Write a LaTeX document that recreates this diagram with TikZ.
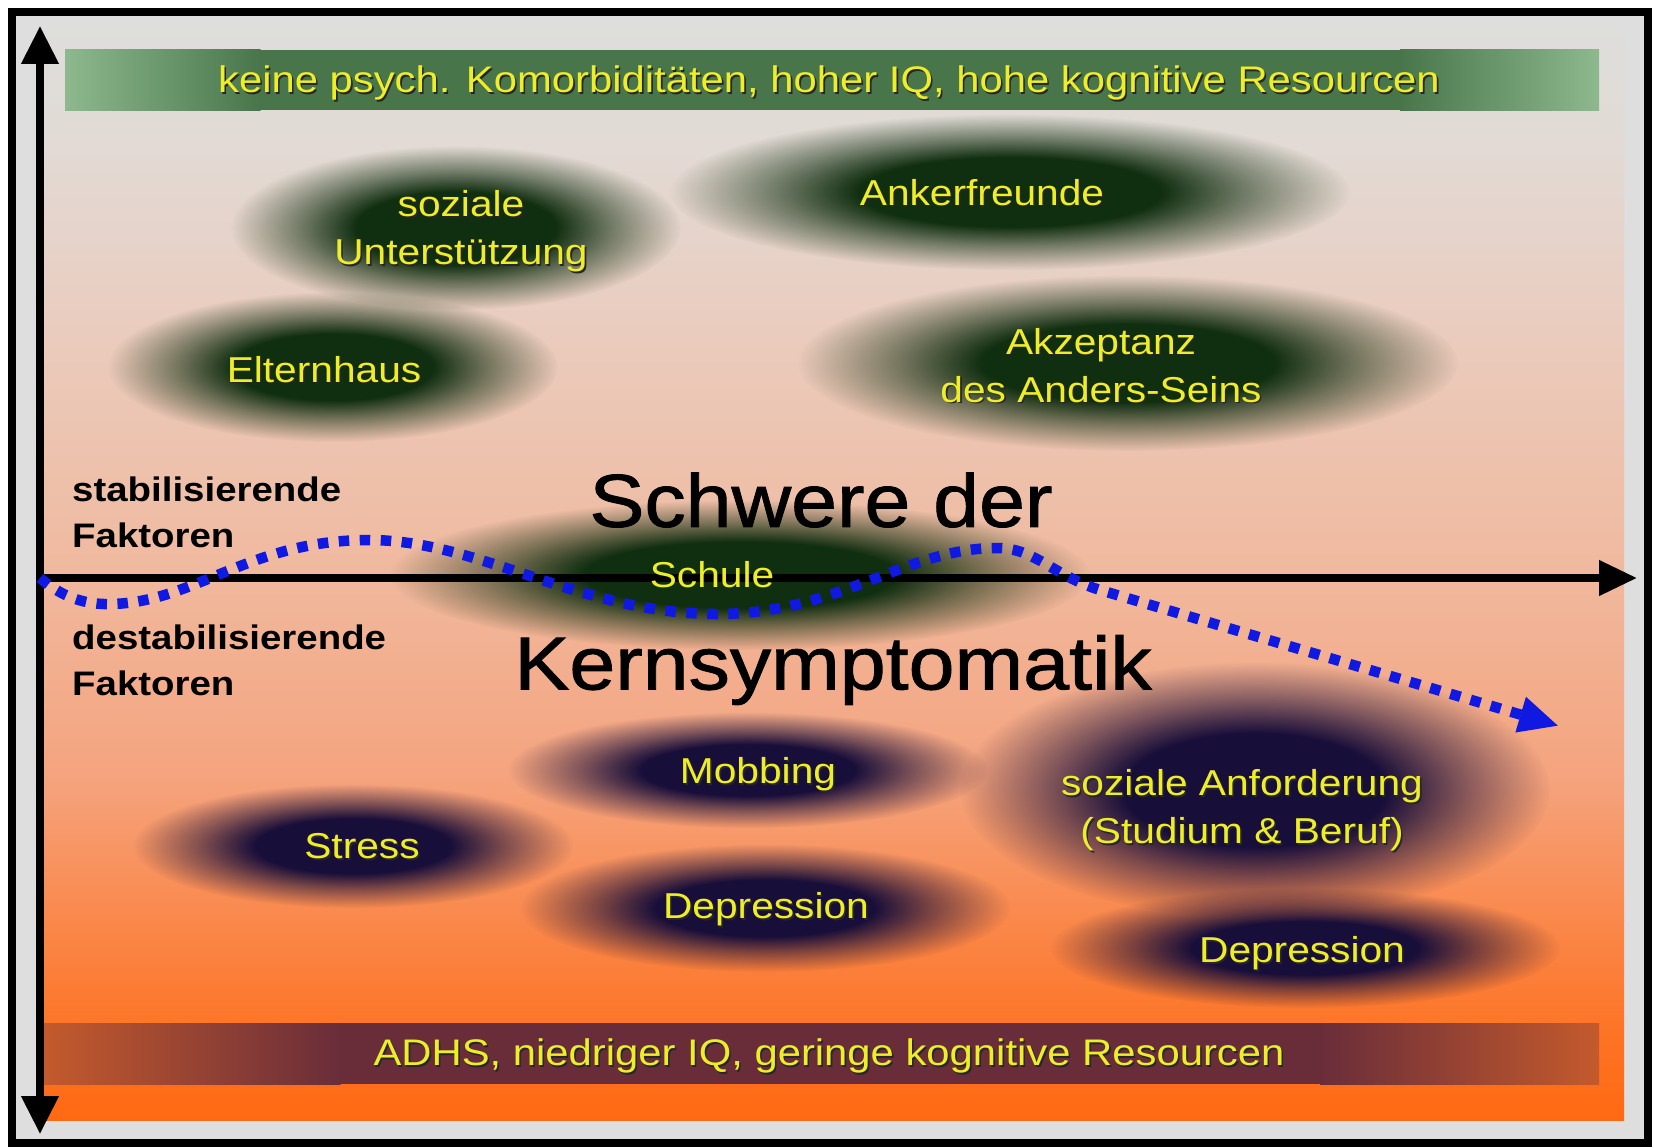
\documentclass[tikz,border=0pt]{standalone}
\usepackage{fontspec}
\setmainfont{Liberation Sans}[FakeStretch=1.13]
\newfontfamily\bigfont{Liberation Sans}[FakeStretch=1.1,FakeBold=1.2]
\usetikzlibrary{arrows.meta,fadings}
\definecolor{bggray}{RGB}{222,222,222}
\definecolor{g0}{RGB}{222,222,220}
\definecolor{g1}{RGB}{226,218,212}
\definecolor{g2}{RGB}{234,204,190}
\definecolor{g3}{RGB}{240,186,160}
\definecolor{g4}{RGB}{245,163,125}
\definecolor{g5}{RGB}{250,136,75}
\definecolor{g6}{RGB}{253,116,38}
\definecolor{g7}{RGB}{255,105,18}
\definecolor{blobgreen}{RGB}{16,46,16}
\definecolor{blobnavy}{RGB}{24,14,58}
\definecolor{labyellow}{RGB}{238,238,40}
\definecolor{dotblue}{RGB}{15,25,225}
\definecolor{topbarlight}{RGB}{142,184,142}
\definecolor{topbardark}{RGB}{72,118,74}
\definecolor{botbarlight}{RGB}{196,90,44}
\definecolor{botbardark}{RGB}{105,45,58}

\pgfdeclareradialshading{blobsh}{\pgfpointorigin}{color(0bp)=(white); color(11bp)=(white); color(17bp)=(white!55!black); color(25bp)=(black); color(50bp)=(black)}
\pgfdeclarefading{blob}{\pgfuseshading{blobsh}}

\newcommand{\shadowed}[1]{\makebox[0pt][l]{\hspace{1.6pt}\raisebox{-1.6pt}{\color{black!85}#1}}#1}

\tikzset{
  lab/.style={text=labyellow, font=\fontsize{36}{48}\selectfont, align=center, inner sep=0pt},
  barlab/.style={text=labyellow, font=\fontsize{37}{48}\selectfont, inner sep=0pt},
  sidelab/.style={text=black, font=\bfseries\fontsize{34}{46}\selectfont, align=left, inner sep=0pt, anchor=west},
  bigtext/.style={text=black, font=\bigfont\fontsize{75}{80}\selectfont, inner sep=0pt},
  axisline/.style={line width=7.5pt},
  greenblob/.style={fill=blobgreen, path fading=blob},
  navyblob/.style={fill=blobnavy, path fading=blob},
  dots/.style={draw=dotblue, line width=10.5pt, dash pattern=on 10.5pt off 10.5pt, -{Triangle[length=40pt,width=34pt,fill=dotblue]}},
}

\begin{document}
\begin{tikzpicture}[x=1pt,y=-1pt]
\useasboundingbox (0,0) rectangle (1654,1148);
\fill[white] (0,0) rectangle (1654,1148);
% frame
\fill[bggray] (12,12) rectangle (1648,1143);
% background panel
\shade[top color=g0, bottom color=g1] (44,23) rectangle (1624,150.5);
\shade[top color=g1, bottom color=g2] (44,150) rectangle (1624,330.5);
\shade[top color=g2, bottom color=g3] (44,330) rectangle (1624,560.5);
\shade[top color=g3, bottom color=g4] (44,560) rectangle (1624,780.5);
\shade[top color=g4, bottom color=g5] (44,780) rectangle (1624,920.5);
\shade[top color=g5, bottom color=g6] (44,920) rectangle (1624,1030.5);
\shade[top color=g6, bottom color=g7] (44,1030) rectangle (1624,1120);
% top bar
\shade[left color=topbarlight, right color=topbardark] (65,50) rectangle (260.5,110);
\fill[topbardark] (260,50) rectangle (1400.5,110);
\shade[left color=topbardark, right color=topbarlight] (1400,50) rectangle (1599,110);
% bottom bar
\shade[left color=botbarlight, right color=botbardark] (44,1023) rectangle (340.5,1084);
\fill[botbardark] (340,1023) rectangle (1320.5,1084);
\shade[left color=botbardark, right color=botbarlight] (1320,1023) rectangle (1599,1084);
% blobs
\fill[greenblob] (456,228) ellipse [x radius=225, y radius=82];
\fill[greenblob] (1010,192) ellipse [x radius=340, y radius=78];
\fill[greenblob] (333,367) ellipse [x radius=225, y radius=75];
\fill[greenblob] (1128,363) ellipse [x radius=330, y radius=88];
\fill[greenblob] (740,575) ellipse [x radius=350, y radius=75];
\fill[navyblob] (748,770) ellipse [x radius=240, y radius=58];
\fill[navyblob] (353,846) ellipse [x radius=220, y radius=62];
\fill[navyblob] (765,908) ellipse [x radius=245, y radius=64];
\fill[navyblob] (1255,790) ellipse [x radius=295, y radius=128];
\fill[navyblob] (1305,948) ellipse [x radius=255, y radius=60];
% frame line
\draw[line width=8pt] (12,12) rectangle (1648,1143);
% axes
\coordinate (vtop) at (40,26);
\coordinate (vbot) at (40,1134);
\coordinate (o) at (40,578);
\coordinate (hend) at (1637,578);
\coordinate (dend) at (1559,726);
\draw[axisline, {Triangle[length=38pt,width=36pt]}-{Triangle[length=38pt,width=36pt]}] (vbot) -- (vtop);
\draw[axisline, -{Triangle[length=38pt,width=34pt]}] (o) -- (hend);
% dotted curve
\draw[dots] (o) .. controls (62,597) and (85,605) .. (112,604)
  .. controls (195,602) and (250,540) .. (369,540)
  .. controls (480,540) and (580,614) .. (717,614)
  .. controls (840,614) and (905,548) .. (997,548)
  .. controls (1035,548) and (1052,575) .. (1100,590) -- (dend);
% texts
\node[barlab] (top) at (829,84) {\shadowed{keine psych. Komorbiditäten, hoher IQ, hohe kognitive Resourcen}};
\node[lab] (soz) at (461,232) {\shadowed{soziale}\\\shadowed{Unterstützung}};
\node[lab] (anker) at (982,193) {\shadowed{Ankerfreunde}};
\node[lab] (eltern) at (324,370) {\shadowed{Elternhaus}};
\node[lab] (akz) at (1101,366) {\shadowed{Akzeptanz}\\\shadowed{des Anders-Seins}};
\node[bigtext] (schwere) at (821,500) {Schwere der};
\node[bigtext] (kern) at (833,670) {Kernsymptomatik};
\node[lab] (schule) at (712,575) {Schule};
\node[sidelab] (stab) at (72,512) {stabilisierende\\Faktoren};
\node[sidelab] (destab) at (72,660) {destabilisierende\\Faktoren};
\node[lab] (mob) at (758,775) {\shadowed{Mobbing}};
\node[lab] (anf) at (1242,811) {\shadowed{soziale Anforderung}\\\shadowed{(Studium \& Beruf)}};
\node[lab] (stress) at (362,847) {\shadowed{Stress}};
\node[lab] (dep1) at (766,910) {\shadowed{Depression}};
\node[lab] (dep2) at (1302,954) {\shadowed{Depression}};
\node[barlab] (bot) at (829,1057) {\shadowed{ADHS, niedriger IQ, geringe kognitive Resourcen}};
\end{tikzpicture}
\end{document}
